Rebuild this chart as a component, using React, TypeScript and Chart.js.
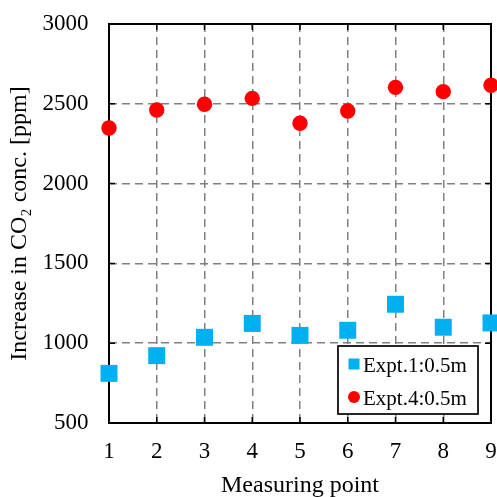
import { useEffect, useRef } from "react";
import { Chart, registerables } from "chart.js";

Chart.register(...registerables);

const measuringPoints = [1, 2, 3, 4, 5, 6, 7, 8, 9];
const expt1Values = [811, 922, 1037, 1124, 1049, 1081, 1244, 1100, 1127];
const expt4Values = [2348, 2461, 2497, 2534, 2378, 2455, 2603, 2576, 2616];
const seriesLabels = ["Expt.1:0.5m", "Expt.4:0.5m"];
const seriesColors = ["#00B0F0", "#FF0000"];
const xAxisTitle = "Measuring point";
const yAxisTitle = "Increase in CO₂ conc. [ppm]";
const yRange = [500, 3000];
const xRange = [1, 9];

const FONT = "'Liberation Serif', 'Times New Roman', serif";

const framePlugin = {
  id: "frame",
  beforeDatasetsDraw(chart: any) {
    const { ctx, chartArea, scales } = chart;
    const { left, right, top, bottom } = chartArea;
    ctx.save();
    ctx.strokeStyle = "#000";
    ctx.lineWidth = 1.5;
    ctx.beginPath();
    scales.x.ticks.forEach((t: any) => {
      const px = scales.x.getPixelForValue(t.value);
      ctx.moveTo(px, bottom);
      ctx.lineTo(px, bottom - 6);
      ctx.moveTo(px, top);
      ctx.lineTo(px, top + 6);
    });
    scales.y.ticks.forEach((t: any) => {
      const py = scales.y.getPixelForValue(t.value);
      ctx.moveTo(left, py);
      ctx.lineTo(left + 6, py);
      ctx.moveTo(right, py);
      ctx.lineTo(right - 6, py);
    });
    ctx.stroke();
    ctx.lineWidth = 2;
    ctx.strokeRect(left, top, right - left, bottom - top);
    ctx.restore();
  },
};

const legendPlugin = {
  id: "boxLegend",
  afterDraw(chart: any) {
    const { ctx, chartArea } = chart;
    const w = 140;
    const h = 68;
    const x0 = chartArea.right - 13 - w;
    const y0 = chartArea.bottom - 9 - h;
    ctx.save();
    ctx.fillStyle = "#fff";
    ctx.fillRect(x0, y0, w, h);
    ctx.strokeStyle = "#000";
    ctx.lineWidth = 1.7;
    ctx.strokeRect(x0, y0, w, h);
    ctx.font = `21px ${FONT}`;
    ctx.textBaseline = "alphabetic";
    ctx.textAlign = "left";
    chart.data.datasets.forEach((ds: any, i: number) => {
      const cy = y0 + 18 + i * 33;
      const cx = x0 + 16;
      ctx.fillStyle = ds.backgroundColor;
      if (ds.pointStyle === "rect") {
        ctx.fillRect(cx - 5.5, cy - 5.5, 11, 11);
      } else {
        ctx.beginPath();
        ctx.arc(cx, cy, 6, 0, Math.PI * 2);
        ctx.fill();
      }
      ctx.fillStyle = "#000";
      ctx.fillText(ds.label, x0 + 25, cy + 7.5);
    });
    ctx.restore();
  },
};

export default function App() {
  const canvasRef = useRef<HTMLCanvasElement | null>(null);

  useEffect(() => {
    const canvas = canvasRef.current;
    if (!canvas) return;
    const chart = new Chart(canvas, {
      type: "scatter",
      data: {
        datasets: [
          {
            label: seriesLabels[0],
            data: measuringPoints.map((p, i) => ({ x: p, y: expt1Values[i] })),
            backgroundColor: seriesColors[0],
            borderColor: seriesColors[0],
            pointStyle: "rect",
            pointRadius: 12,
            pointHoverRadius: 12,
            pointBorderWidth: 0,
            clip: false,
          } as any,
          {
            label: seriesLabels[1],
            data: measuringPoints.map((p, i) => ({ x: p, y: expt4Values[i] })),
            backgroundColor: seriesColors[1],
            borderColor: seriesColors[1],
            pointStyle: "circle",
            pointRadius: 7.7,
            pointHoverRadius: 7.7,
            pointBorderWidth: 0,
            clip: false,
          } as any,
        ],
      },
      options: {
        responsive: false,
        animation: false,
        events: [],
        layout: { autoPadding: false, padding: { left: 0, top: 24, right: 6, bottom: 0 } },
        plugins: {
          legend: { display: false },
          tooltip: { enabled: false },
        },
        scales: {
          x: {
            type: "linear",
            min: xRange[0],
            max: xRange[1],
            afterFit(scale: any) {
              scale.height = 74;
              scale.paddingLeft = 0;
              scale.paddingRight = 0;
            },
            ticks: {
              stepSize: 1,
              padding: 15,
              color: "#000",
              font: { family: FONT, size: 23 },
              callback: (v: any) => String(v),
            },
            grid: {
              color: "#808080",
              lineWidth: 1.5,
              drawTicks: false,
            },
            border: { display: false, dash: [8, 5] },
            title: {
              display: true,
              text: xAxisTitle,
              color: "#000",
              font: { family: FONT, size: 24 },
              padding: { top: 0, bottom: -3 },
            },
          },
          y: {
            type: "linear",
            min: yRange[0],
            max: yRange[1],
            afterFit(scale: any) {
              scale.width = 109;
              scale.paddingTop = 0;
              scale.paddingBottom = 0;
            },
            ticks: {
              stepSize: 500,
              padding: 20.5,
              color: "#000",
              font: { family: FONT, size: 23 },
              callback: (v: any) => String(v),
            },
            grid: {
              color: "#808080",
              lineWidth: 1.5,
              drawTicks: false,
            },
            border: { display: false, dash: [8, 5] },
            title: {
              display: true,
              text: yAxisTitle,
              color: "#000",
              font: { family: FONT, size: 24 },
              padding: { top: 5, bottom: 0 },
            },
          },
        },
      } as any,
      plugins: [framePlugin, legendPlugin],
    });
    return () => chart.destroy();
  }, []);

  return (
    <div style={{ position: "absolute", left: 0, top: 0, width: 497, height: 497, background: "#fff" }}>
      <canvas ref={canvasRef} width={497} height={497} style={{ display: "block" }} />
    </div>
  );
}
